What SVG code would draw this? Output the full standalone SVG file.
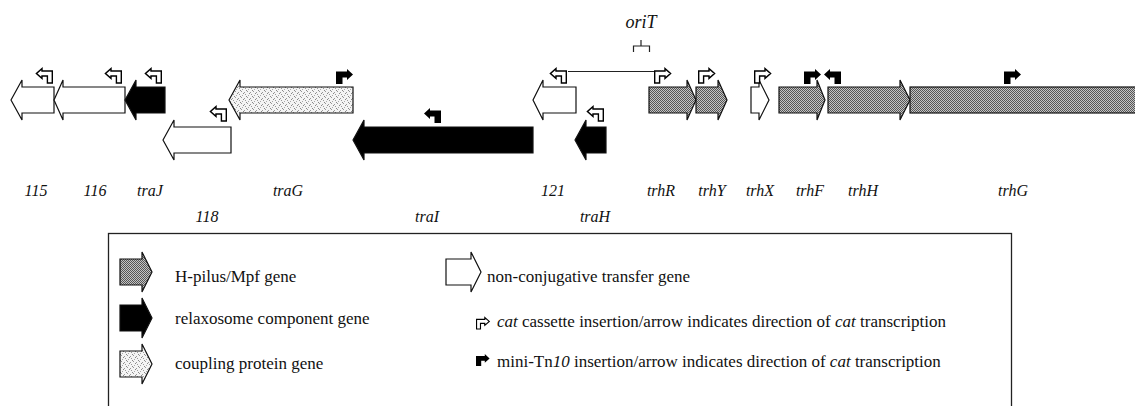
<svg xmlns="http://www.w3.org/2000/svg" xmlns:xlink="http://www.w3.org/1999/xlink" width="1135" height="406" viewBox="0 0 1135 406">
<style>
.lbl{font-family:"Liberation Serif","Times New Roman",serif;font-style:italic;font-size:16px;fill:#111;text-anchor:middle}
.leg{font-family:"Liberation Serif","Times New Roman",serif;font-size:17px;fill:#111}
.it{font-style:italic}
.g{stroke:#111;stroke-width:1.2;stroke-linejoin:miter}
.w{fill:#fff}
.k{fill:#000}
.p{fill:url(#pilus)}
.s{fill:url(#stip)}
</style>
<defs>
<pattern id="pilus" width="2" height="2" patternUnits="userSpaceOnUse">
<rect width="2" height="2" fill="#c4c4c4"/>
<rect width="1" height="1" fill="#555"/>
<rect x="1" y="1" width="1" height="1" fill="#555"/>
</pattern>
<pattern id="stip" width="6" height="6" patternUnits="userSpaceOnUse">
<rect width="6" height="6" fill="#f4f4f4"/>
<rect x="0" y="0" width="1" height="1" fill="#888"/>
<rect x="1" y="1" width="1" height="1" fill="#999"/>
<rect x="3" y="3" width="1" height="1" fill="#888"/>
<rect x="4" y="2" width="1" height="1" fill="#999"/>
<rect x="2" y="5" width="1" height="1" fill="#aaa"/>
<rect x="5" y="4" width="1" height="1" fill="#999"/>
</pattern>
<polygon id="bentW" points="0.7,15 0.7,3 11,3 11,0.6 16.6,5.5 11,10.4 11,8 5.6,8 5.6,15" fill="#fff" stroke="#000" stroke-width="1.4" stroke-linejoin="miter"/>
<polygon id="bentK" points="0,15 0,2.5 11,2.5 11,0 17,5.5 11,11 11,8.5 6.5,8.5 6.5,15" fill="#000"/>
</defs>

<g id="connectors">
<line x1="568" y1="71.5" x2="654" y2="71.5" stroke="#222" stroke-width="1.2"/>
<path d="M633.5,52 L633.5,46 L641,46 L641,40 M641,46 L649.5,46 L649.5,52" fill="none" stroke="#222" stroke-width="1.2"/>
</g>

<g id="oriT"><text x="641" y="28" class="lbl" style="font-size:18px">oriT</text></g>

<g id="g115">
<polygon class="g w" points="11,100 22,80 22,87 54,87 54,113 22,113 22,120"/>
<use xlink:href="#bentW" href="#bentW" transform="translate(53,68) scale(-1,1)"/>
<text x="36" y="196" class="lbl">115</text>
</g>
<g id="g116">
<polygon class="g w" points="54,100 63,80 63,87 125,87 125,113 63,113 63,120"/>
<use xlink:href="#bentW" href="#bentW" transform="translate(122,68) scale(-1,1)"/>
<text x="95" y="196" class="lbl">116</text>
</g>
<g id="traJ">
<polygon class="g k" points="125,100 136,80 136,87 165,87 165,113 136,113 136,120"/>
<use xlink:href="#bentW" href="#bentW" transform="translate(162,68) scale(-1,1)"/>
<text x="150" y="196" class="lbl">traJ</text>
</g>
<g id="g118">
<polygon class="g w" points="163,140 174,120 174,127 231,127 231,153 174,153 174,160"/>
<use xlink:href="#bentW" href="#bentW" transform="translate(227,106) scale(-1,1)"/>
<text x="207" y="222" class="lbl">118</text>
</g>
<g id="traG">
<polygon class="g s" points="229,100 240,80 240,87 353,87 353,113 240,113 240,120"/>
<use xlink:href="#bentK" href="#bentK" x="336" y="69"/>
<text x="288" y="196" class="lbl">traG</text>
</g>
<g id="traI">
<polygon class="g k" points="353,140 364,120 364,127 533,127 533,153 364,153 364,160"/>
<use xlink:href="#bentK" href="#bentK" transform="translate(441,108) scale(-1,1)"/>
<text x="427" y="222" class="lbl">traI</text>
</g>
<g id="g121">
<polygon class="g w" points="533,100 543,80 543,87 576,87 576,113 543,113 543,120"/>
<use xlink:href="#bentW" href="#bentW" transform="translate(567,68) scale(-1,1)"/>
<text x="553" y="196" class="lbl">121</text>
</g>
<g id="traH">
<polygon class="g k" points="575,140 586,120 586,127 606,127 606,153 586,153 586,160"/>
<use xlink:href="#bentW" href="#bentW" transform="translate(604,106) scale(-1,1)"/>
<text x="595" y="222" class="lbl">traH</text>
</g>
<g id="trhR">
<polygon class="g p" points="649,87 687,87 687,80 696,100 687,120 687,113 649,113"/>
<use xlink:href="#bentW" href="#bentW" x="654" y="68"/>
<text x="661" y="196" class="lbl">trhR</text>
</g>
<g id="trhY">
<polygon class="g p" points="696,87 718,87 718,80 727,100 718,120 718,113 696,113"/>
<use xlink:href="#bentW" href="#bentW" x="698" y="68"/>
<text x="712" y="196" class="lbl">trhY</text>
</g>
<g id="trhX">
<polygon class="g w" points="751,87 759,87 759,80 769,100 759,120 759,113 751,113"/>
<use xlink:href="#bentW" href="#bentW" x="754" y="68"/>
<text x="760" y="196" class="lbl">trhX</text>
</g>
<g id="trhF">
<polygon class="g p" points="779,87 817,87 817,80 825,100 817,120 817,113 779,113"/>
<use xlink:href="#bentK" href="#bentK" x="804" y="69"/>
<text x="810" y="196" class="lbl">trhF</text>
</g>
<g id="trhH">
<polygon class="g p" points="828,87 900,87 900,80 910,100 900,120 900,113 828,113"/>
<use xlink:href="#bentK" href="#bentK" transform="translate(841,69) scale(-1,1)"/>
<text x="863" y="196" class="lbl">trhH</text>
</g>
<g id="trhG">
<rect class="g p" x="910" y="87" width="230" height="26"/>
<use xlink:href="#bentK" href="#bentK" x="1004" y="69"/>
<text x="1013" y="196" class="lbl">trhG</text>
</g>

<g id="legend">
<rect x="108.5" y="233.5" width="903" height="200" fill="none" stroke="#222" stroke-width="1.3"/>
<polygon class="g p" points="120,259 142,259 142,252 152,272 142,292 142,285 120,285"/>
<text x="175" y="282" class="leg">H-pilus/Mpf gene</text>
<polygon class="g k" points="120,305 142,305 142,298 152,318 142,338 142,331 120,331"/>
<text x="175" y="324" class="leg">relaxosome component gene</text>
<polygon class="g s" points="120,351 142,351 142,344 152,364 142,384 142,377 120,377"/>
<text x="175" y="369" class="leg">coupling protein gene</text>
<polygon class="g w" points="446,259 471,259 471,252 481,272 471,292 471,285 446,285"/>
<text x="487" y="282" class="leg">non-conjugative transfer gene</text>
<use xlink:href="#bentW" href="#bentW" transform="translate(476,317) scale(0.8)"/>
<text x="497" y="327" class="leg"><tspan class="it">cat</tspan> cassette insertion/arrow indicates direction of <tspan class="it">cat</tspan> transcription</text>
<use xlink:href="#bentK" href="#bentK" transform="translate(476,354) scale(0.8)"/>
<text x="497" y="367" class="leg">mini-Tn<tspan class="it">10</tspan> insertion/arrow indicates direction of <tspan class="it">cat</tspan> transcription</text>
</g>
</svg>
